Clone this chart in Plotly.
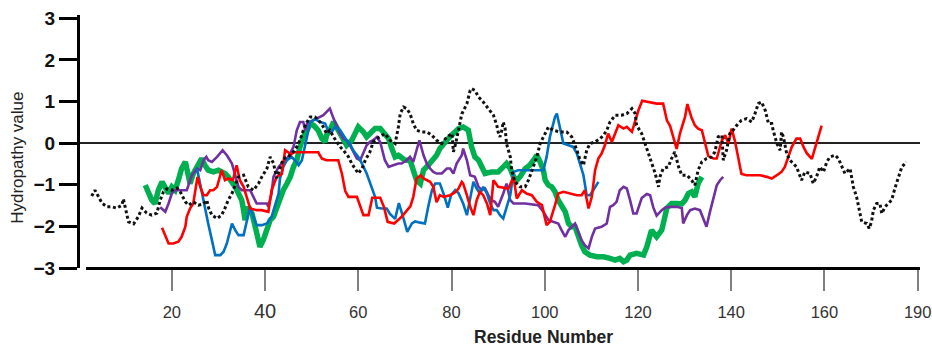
import plotly.graph_objects as go

# ---------------- data (residue number, hydropathy value) ----------------
dotted_res = [2.8,3.5,4.3,5.0,6.1,7.1,8.2,9.3,9.6,10.0,
10.7,11.8,12.8,13.6,14.6,15.7,16.8,17.5,18.2,18.9,
20.0,21.1,21.8,22.9,23.6,24.6,25.7,26.8,27.5,27.9,
28.6,29.7,30.7,31.4,32.1,32.9,33.6,34.3,35.4,36.4,
37.5,38.6,39.3,40.4,41.1,41.8,42.5,43.9,44.9,46.1,
46.8,47.5,48.2,49.0,49.7,50.7,51.8,52.5,53.2,53.9,
54.7,55.4,56.1,56.8,57.9,58.6,59.3,60.0,60.8,61.5,
62.5,63.2,64.0,65.0,65.7,66.8,67.9,68.6,69.0,69.7,
70.4,71.1,71.8,72.5,73.6,74.7,75.8,76.8,77.9,79.0,
80.1,80.4,80.8,81.5,82.2,83.3,84.0,84.3,85.0,85.8,
86.8,87.9,89.0,89.7,90.0,90.4,90.8,91.1,91.5,91.8,
92.6,92.9,93.6,94.7,95.8,96.5,97.2,98.3,99.0,100.1,
100.8,101.8,103.3,104.7,105.8,106.9,107.6,108.3,109.0,109.7,
110.8,111.9,112.6,113.3,114.0,115.1,116.5,117.6,118.7,119.4,
119.7,120.8,121.5,122.2,122.9,123.7,124.4,124.7,125.4,126.5,
127.2,127.9,128.7,129.4,130.5,131.5,132.2,132.9,133.7,134.7,
135.8,136.5,137.2,138.0,138.3,139.0,139.7,140.4,141.2,142.2,
143.3,144.4,145.1,145.8,146.5,147.3,148.0,148.7,149.0,149.8,
150.5,150.8,151.2,151.9,152.6,154.0,155.1,155.8,156.9,157.6,
158.3,159.0,159.8,160.5,161.2,162.3,163.0,163.7,164.4,165.5,
165.8,166.2,166.9,167.3,167.6,168.0,169.1,169.6,170.1,170.5,
171.2,171.9,172.3,173.0,173.7,174.4,175.1,175.8,176.6,177.6]
dotted_val = [-1.27,-1.13,-1.29,-1.44,-1.53,-1.53,-1.56,-1.49,-1.34,-1.56,
-1.89,-1.94,-1.77,-1.56,-1.68,-1.73,-1.68,-1.37,-1.17,-1.10,
-1.13,-1.08,-1.17,-1.41,-1.49,-1.41,-1.49,-1.46,-1.37,-1.56,
-1.73,-1.81,-1.73,-1.56,-1.37,-1.21,-1.01,-0.81,-0.77,-1.05,
-1.13,-0.97,-0.81,-0.61,-0.33,-0.48,-0.84,-0.37,-0.34,-0.21,
-0.09,0.07,0.31,0.51,0.63,0.63,0.51,0.39,0.23,0.31,
0.15,0.03,-0.09,-0.17,-0.33,-0.49,-0.61,-0.73,-0.61,-0.41,
-0.21,0.03,0.11,0.19,0.23,0.07,-0.01,0.39,0.71,0.87,
0.83,0.71,0.47,0.31,0.27,0.27,0.19,0.07,-0.01,0.15,
0.23,-0.21,-0.05,0.31,0.70,0.95,1.27,1.31,1.27,1.11,
0.99,0.83,0.67,0.43,0.27,0.15,0.31,0.51,0.35,-0.01,
-0.33,-0.65,-0.93,-1.05,-1.05,-0.89,-0.65,-0.33,-0.01,0.23,
0.39,0.31,0.27,0.27,0.15,-0.17,-0.41,-0.53,-0.17,-0.01,
0.03,0.11,0.19,0.31,0.51,0.67,0.67,0.71,0.83,0.71,
0.43,0.23,-0.01,-0.25,-0.49,-0.73,-1.05,-0.81,-0.61,-0.57,
-0.37,-0.21,-0.57,-0.77,-0.77,-0.89,-1.01,-0.65,-0.45,-0.37,
-0.33,-0.21,0.15,0.19,-0.41,-0.17,0.23,0.31,0.43,0.55,
0.59,0.51,0.71,0.95,0.99,0.79,0.47,0.47,0.31,-0.01,
-0.17,0.27,0.15,-0.25,-0.41,-0.57,-0.89,-0.69,-0.73,-0.97,
-0.81,-0.57,-0.69,-0.45,-0.33,-0.29,-0.37,-0.53,-0.73,-0.61,
-0.77,-1.05,-1.29,-1.53,-1.73,-1.89,-1.93,-2.05,-1.89,-1.61,
-1.45,-1.45,-1.69,-1.53,-1.45,-1.37,-1.09,-0.85,-0.57,-0.45]

green_res = [14.3,15.0,15.7,16.4,17.1,17.9,18.6,19.3,20.0,20.7,
21.4,22.1,22.9,23.2,23.9,24.6,25.4,26.1,26.4,27.1,
27.8,28.9,30.0,30.7,31.4,32.1,32.9,33.6,34.3,35.0,
35.4,35.7,36.4,37.2,37.9,38.9,39.6,40.4,41.1,41.8,
42.5,43.2,43.9,44.7,45.4,46.1,46.8,47.5,48.2,49.0,
49.7,50.4,51.4,52.2,52.9,53.2,53.9,54.7,55.4,56.5,
57.5,58.6,59.3,60.0,61.1,61.8,62.5,63.6,64.7,65.7,
66.5,67.2,67.9,68.6,69.3,70.0,71.1,71.8,72.5,73.3,
74.0,75.0,76.1,76.8,77.5,78.3,79.3,80.4,81.5,82.5,
83.6,84.3,85.0,85.8,86.5,87.2,88.6,90.0,91.1,91.8,
92.6,93.3,94.0,94.7,95.8,96.8,97.6,98.3,99.0,99.7,
100.1,100.8,101.5,102.2,102.9,103.6,104.4,105.1,105.8,106.5,
107.2,107.9,108.6,109.7,111.2,112.6,114.0,115.1,116.1,116.9,
117.6,118.3,119.7,121.2,121.9,122.9,124.0,125.1,126.2,127.2,
128.3,129.4,130.1,130.8,131.5,132.2,132.9,133.7]
green_val = [-1.01,-1.21,-1.37,-1.45,-1.13,-0.93,-1.05,-1.21,-1.05,-1.13,
-0.89,-0.61,-0.45,-0.61,-0.97,-0.73,-0.57,-0.41,-0.37,-0.53,
-0.65,-0.69,-0.65,-0.69,-0.73,-0.81,-0.93,-1.05,-1.21,-1.37,
-1.61,-1.85,-1.53,-1.69,-2.01,-2.49,-2.33,-2.01,-1.85,-1.77,
-1.53,-1.29,-1.13,-0.97,-0.81,-0.57,-0.41,-0.09,0.15,0.31,
0.47,0.43,0.31,0.11,0.03,0.19,0.31,0.51,0.39,0.15,
-0.05,0.07,0.23,0.39,0.27,0.15,0.23,0.35,0.35,0.23,
0.11,-0.13,-0.33,-0.29,-0.37,-0.41,-0.41,-0.65,-0.89,-0.97,
-0.65,-0.53,-0.41,-0.29,-0.13,-0.01,0.11,0.23,0.35,0.39,
0.31,-0.09,-0.33,-0.41,-0.61,-0.73,-0.69,-0.69,-0.57,-0.49,
-0.61,-0.81,-0.89,-0.81,-0.61,-0.53,-0.41,-0.29,-0.45,-0.65,
-0.89,-1.01,-1.05,-1.17,-1.37,-1.53,-1.65,-1.93,-2.01,-2.01,
-2.25,-2.45,-2.61,-2.69,-2.73,-2.73,-2.77,-2.81,-2.77,-2.85,
-2.81,-2.69,-2.65,-2.69,-2.49,-2.09,-2.25,-2.09,-1.56,-1.45,
-1.45,-1.46,-1.37,-1.21,-1.17,-1.29,-0.97,-0.81]

purple_res = [17.5,18.6,19.3,20.0,20.7,21.8,23.2,24.3,25.4,26.1,
26.8,27.4,27.8,28.6,29.7,30.9,31.8,32.9,33.6,34.3,
35.0,36.8,37.5,38.2,39.3,40.4,40.7,41.4,41.8,42.9,
43.9,45.0,46.1,46.8,47.5,48.2,48.6,49.0,49.7,50.4,
51.4,52.5,53.2,53.9,54.7,55.4,56.1,56.8,57.5,58.2,
58.9,59.7,60.4,61.1,61.8,62.5,63.2,64.0,64.7,65.7,
66.5,67.5,68.6,69.3,70.4,71.1,71.8,72.5,73.1,74.0,
74.7,75.4,76.1,76.8,77.9,79.0,79.7,80.4,81.1,82.2,
82.5,83.3,84.0,85.0,85.8,86.5,87.2,87.9,88.6,89.3,
90.0,91.1,91.8,92.6,93.3,95.8,98.6,99.7,100.8,101.8,
102.9,103.6,104.4,105.1,105.8,106.5,107.2,107.9,108.6,109.4,
110.1,110.8,112.2,113.3,114.0,114.7,115.4,116.1,116.9,117.6,
118.3,119.0,119.7,120.8,121.9,122.6,123.3,124.0,125.1,125.8,
126.9,128.3,129.4,129.7,130.5,131.2,132.2,133.3,134.0,134.7,
135.4,136.2,136.9,137.6,138.3]
purple_val = [-1.54,-1.65,-1.45,-1.21,-1.13,-1.13,-1.13,-0.77,-0.61,-0.65,
-0.41,-0.33,-0.41,-0.45,-0.33,-0.17,-0.29,-0.49,-0.77,-1.05,
-1.13,-1.13,-1.29,-1.45,-1.45,-1.45,-1.53,-1.21,-0.81,-0.57,
-0.45,-0.33,-0.09,0.31,0.51,0.51,0.31,0.47,0.51,0.55,
0.59,0.67,0.75,0.83,0.59,0.39,0.23,0.11,0.07,-0.05,
-0.21,-0.37,-0.41,-0.21,-0.05,0.03,0.07,0.15,0.03,-0.41,
-0.57,-0.53,-0.49,-0.49,-0.41,-0.33,-0.45,-0.17,0.07,-0.29,
-0.49,-0.61,-0.69,-0.73,-0.73,-0.61,-0.61,-0.73,-0.49,-0.29,
-0.13,-0.41,-0.77,-0.81,-1.05,-1.13,-1.09,-1.25,-1.37,-1.41,
-1.53,-1.21,-0.97,-1.37,-1.45,-1.45,-1.49,-1.65,-1.85,-1.89,
-1.93,-2.09,-2.25,-2.09,-2.01,-1.93,-2.13,-2.33,-2.45,-2.53,
-2.25,-2.05,-2.01,-1.93,-1.53,-1.49,-1.41,-1.13,-1.05,-1.09,
-1.37,-1.69,-1.69,-1.32,-1.22,-1.25,-1.55,-1.74,-1.61,-1.55,
-1.53,-1.53,-1.56,-1.93,-1.73,-1.61,-1.57,-1.61,-1.81,-2.01,
-1.67,-1.29,-1.01,-0.89,-0.81]

blue_res = [25.4,26.8,27.8,28.6,29.3,30.4,31.1,31.8,32.9,33.6,
34.3,35.4,36.1,36.8,37.5,38.2,39.3,40.4,41.4,42.1,
42.9,43.2,43.9,44.7,45.7,46.4,47.2,47.9,48.6,49.3,
49.7,50.7,51.8,52.9,53.6,54.3,55.0,56.1,56.8,57.5,
58.2,58.9,60.0,60.8,61.8,62.9,63.6,64.0,65.0,66.1,
66.8,67.9,68.7,69.7,70.5,71.5,72.2,73.3,74.3,75.0,
75.8,76.5,77.5,78.4,79.2,79.9,80.8,81.5,82.5,83.3,
84.0,84.7,85.4,86.1,86.8,87.6,88.3,89.0,89.7,90.4,
91.1,91.8,92.6,93.3,94.3,99.7,100.4,101.1,102.2,102.6,
103.3,104.0,105.1,106.1,106.9,107.6,108.3,109.0,109.7,110.4,
111.5]
blue_val = [-0.61,-1.41,-1.93,-2.33,-2.69,-2.69,-2.61,-2.41,-1.93,-2.09,
-2.21,-2.21,-1.85,-1.53,-1.77,-1.97,-1.97,-1.93,-1.77,-1.53,
-1.21,-0.85,-0.57,-0.41,-0.33,-0.41,-0.53,-0.41,-0.01,0.31,
0.51,0.58,0.51,0.47,0.27,0.27,0.39,0.31,0.19,0.07,
-0.01,-0.17,-0.33,-0.49,-0.73,-1.09,-1.29,-1.55,-1.57,-1.57,
-1.70,-1.82,-1.44,-1.81,-2.13,-1.93,-1.88,-1.91,-1.93,-1.53,
-1.13,-0.97,-0.97,-1.25,-1.55,-1.25,-1.13,-1.20,-1.45,-1.73,
-1.37,-0.93,-1.09,-1.21,-1.05,-1.21,-1.45,-1.61,-1.61,-1.73,
-1.81,-1.53,-1.25,-0.69,-0.65,-0.65,-0.33,0.15,0.63,0.71,
0.31,-0.01,-0.05,-0.09,-0.25,-0.49,-0.77,-1.25,-1.25,-1.13,
-0.93]

red_res = [17.9,18.6,19.3,20.3,21.4,22.1,22.9,23.2,23.9,24.6,
25.0,25.5,26.1,26.8,27.5,28.2,28.9,29.7,30.7,31.4,
32.1,33.1,33.9,34.6,35.4,36.1,36.8,38.2,39.3,40.7,
41.4,42.5,43.6,44.3,45.0,45.4,46.1,49.0,51.4,52.2,
53.2,55.7,56.5,57.2,57.9,59.7,60.4,61.1,62.2,63.0,
64.7,65.5,66.3,67.7,69.3,70.4,71.2,71.8,72.5,73.4,
74.0,75.4,76.1,76.8,77.5,78.3,79.7,80.8,81.5,82.2,
82.5,83.3,84.0,84.7,85.4,86.1,86.8,87.6,88.3,89.0,
90.0,92.2,93.3,94.0,95.1,96.1,97.2,98.3,99.4,100.4,
101.1,102.2,102.9,104.0,105.4,106.9,107.9,108.6,109.4,110.1,
110.8,111.5,112.2,112.9,113.6,114.4,115.1,115.8,116.9,117.6,
118.7,119.4,120.1,120.9,122.6,124.0,125.4,126.2,126.9,127.6,
128.3,129.0,130.1,130.6,131.5,132.2,132.9,133.7,134.4,135.1,
136.2,136.9,138.0,138.7,139.4,140.1,140.8,141.5,142.2,143.3,
146.2,147.6,148.7,149.8,150.8,151.5,152.3,153.0,154.0,154.8,
155.5,156.2,157.3,158.0,158.7,159.4]
red_val = [-2.03,-2.21,-2.41,-2.41,-2.37,-2.25,-2.01,-1.77,-1.57,-1.45,
-1.17,-0.81,-1.05,-1.25,-1.25,-1.13,-1.13,-1.05,-0.65,-0.89,
-0.85,-0.89,-0.53,-0.89,-1.05,-1.29,-1.57,-1.61,-1.61,-1.65,
-1.13,-0.81,-0.74,-0.17,-0.22,-0.29,-0.22,-0.22,-0.22,-0.37,
-0.41,-0.41,-0.74,-1.15,-1.29,-1.29,-1.53,-1.73,-1.73,-1.31,
-1.31,-1.53,-1.89,-1.93,-1.77,-1.63,-1.51,-1.29,-0.85,-0.77,
-0.85,-0.93,-1.05,-1.42,-1.25,-1.29,-1.25,-1.18,-1.09,-0.93,
-0.97,-1.25,-1.53,-1.73,-1.37,-1.17,-1.25,-1.45,-1.73,-0.89,
-1.05,-1.09,-0.81,-1.33,-1.13,-1.21,-1.25,-1.41,-1.49,-1.97,
-1.89,-1.49,-1.21,-1.17,-1.21,-1.25,-1.25,-1.13,-1.57,-1.29,
-0.65,-0.37,-0.25,-0.05,0.23,0.03,0.23,0.43,0.35,0.39,
0.27,0.55,0.79,1.02,0.99,0.95,0.95,0.55,0.41,0.15,
-0.14,0.23,0.63,0.94,0.61,0.43,0.35,0.31,-0.02,-0.31,
-0.37,-0.37,0.07,0.19,-0.01,0.35,0.05,-0.33,-0.74,-0.77,
-0.77,-0.81,-0.85,-0.77,-0.69,-0.57,-0.33,-0.09,0.11,0.11,
-0.09,-0.24,-0.38,-0.11,0.19,0.42]

x_tickvals = [20, 40, 60, 80, 100, 120, 140, 160, 180]
x_ticktext = ["20", '<span style="font-size:20px">40</span>', "60", "80",
              "100", "120", "140", "160", "190"]
y_tickvals = [-3, -2, -1, 0, 1, 2, 3]

# ---------------- figure ----------------
fig = go.Figure()
series = [
    (green_res, green_val, "#00B050", 5.5, "solid"),
    (purple_res, purple_val, "#7030A0", 2.6, "solid"),
    (blue_res, blue_val, "#0070C0", 2.6, "solid"),
    (red_res, red_val, "#FF0000", 2.6, "solid"),
    (dotted_res, dotted_val, "#111111", 3, "3px,2.6px"),
]
for xs, ys, col, w, dash in series:
    fig.add_trace(go.Scatter(x=xs, y=ys, mode="lines",
                             line=dict(color=col, width=w, dash=dash),
                             showlegend=False, hoverinfo="skip"))

font_family = "Liberation Sans, Arial, sans-serif"

fig.update_layout(
    width=932, height=348,
    margin=dict(l=80, r=12, t=15, b=80),
    paper_bgcolor="white", plot_bgcolor="white",
    font=dict(family=font_family),
    xaxis=dict(range=[0.3, 180.5], tickvals=x_tickvals, ticktext=x_ticktext,
               ticks="outside", ticklen=22, tickwidth=1.5, tickcolor="#808080",
               showline=False, showgrid=False, zeroline=False, automargin=False,
               tickfont=dict(size=16.5, color="#333333", family=font_family),
               ticklabelstandoff=7, ticklabeloverflow="allow"),
    yaxis=dict(range=[-3, 3.08], tickvals=y_tickvals,
               ticks="outside", ticklen=18, tickwidth=2.5, tickcolor="black",
               showline=True, linewidth=3, linecolor="black", automargin=False,
               showgrid=False, zeroline=True, zerolinecolor="#222222", zerolinewidth=1.6,
               ticklabeloverflow="allow",
               tickfont=dict(size=19, color="#111111", family=font_family, weight="bold")),
    shapes=[dict(type="line", xref="x", yref="paper", x0=1.6, x1=180.5,
                 y0=-0.002, y1=-0.002, line=dict(color="black", width=3))],
    annotations=[
        dict(text="<b>Residue Number</b>", xref="paper", yref="paper",
             x=0.552, y=-0.273, xanchor="center", yanchor="middle", showarrow=False,
             font=dict(size=17.5, color="#222222", family=font_family)),
        dict(text="Hydropathy value", xref="paper", yref="paper",
             x=-0.074, y=0.435, xanchor="center", yanchor="middle", showarrow=False,
             textangle=-90, font=dict(size=17, color="#222222", family=font_family)),
    ],
)

# remove the default page margin so the 932x348 figure fills the window exactly
fig.write_html("out.html",
               config={"displayModeBar": False},
               post_script="document.body.style.margin='0';"
                           "document.body.style.overflow='hidden';")
